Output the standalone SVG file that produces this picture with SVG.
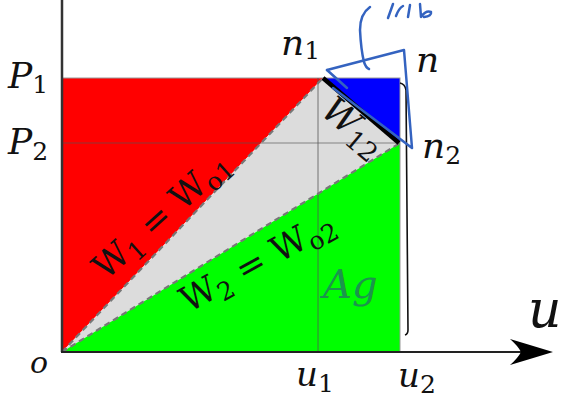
<svg xmlns="http://www.w3.org/2000/svg" width="561" height="399" viewBox="0 0 561 399">
<style>
.lbl{font-family:"DejaVu Serif","Liberation Serif",serif;font-style:italic;fill:#111}
.sub{font-style:normal}
.w{font-family:"DejaVu Serif","Liberation Serif",serif;fill:#111}
.dash{stroke:#777;stroke-width:2.2;stroke-dasharray:6 4;fill:none}
.grid{stroke:#555;stroke-opacity:0.65;stroke-width:1.2;fill:none}
.ink{stroke:#3463c0;stroke-width:2.5;fill:none;stroke-linecap:round;stroke-linejoin:round}
</style>
<rect width="561" height="399" fill="#fff"/>
<g id="regions">
  <polygon id="red" points="62,78 323,78 62,352" fill="#ff0000"/>
  <polygon id="blue" points="323,78 400,78 400,143" fill="#0000ff"/>
  <polygon id="gray" points="62,352 323,78 400,143" fill="#dcdcdc"/>
  <polygon id="green" points="62,352 400,143 400,352" fill="#00ff00"/>
  <rect x="62" y="78" width="338" height="274" fill="none" stroke="#999" stroke-width="1"/>
</g>
<g id="connectors">
  <line class="grid" x1="62" y1="143" x2="400" y2="143"/>
  <line class="grid" x1="318" y1="78" x2="318" y2="352"/>
  <line class="dash" x1="62" y1="352" x2="323" y2="78"/>
  <line class="dash" x1="62" y1="352" x2="400" y2="143"/>
  <line x1="323" y1="78" x2="399" y2="143" stroke="#000" stroke-width="4.5"/>
  <line x1="62" y1="0" x2="62" y2="352" stroke="#333" stroke-width="2.5"/>
  <line x1="61" y1="352" x2="522" y2="352" stroke="#222" stroke-width="2.2"/>
  <path d="M553,352 Q530,345 510,339 Q518,346 521,352 Q518,358 510,365 Q530,359 553,352 Z" fill="#000"/>
  <path d="M400,83 Q405,84 406,90 L408,330 Q408,334 405,335" fill="none" stroke="#111" stroke-width="1.6"/>
</g>
<g id="labels">
  <text class="lbl" x="8" y="88" font-size="36">P<tspan class="sub" font-size="25" dy="5">1</tspan></text>
  <text class="lbl" x="8" y="154" font-size="36">P<tspan class="sub" font-size="25" dy="6">2</tspan></text>
  <text class="lbl" x="281" y="55" font-size="36">n<tspan class="sub" font-size="25" dy="4">1</tspan></text>
  <text class="lbl" x="416" y="72" font-size="36">n</text>
  <text class="lbl" x="422" y="158" font-size="36">n<tspan class="sub" font-size="25" dy="6">2</tspan></text>
  <text class="lbl" x="30" y="373" font-size="30">o</text>
  <text class="lbl" x="296" y="386" font-size="34">u<tspan class="sub" font-size="25" dy="6">1</tspan></text>
  <text class="lbl" x="398" y="387" font-size="34">u<tspan class="sub" font-size="25" dy="6">2</tspan></text>
  <text class="lbl" x="528" y="327" font-size="52">u</text>
</g>
<g id="wlabels">
  <text class="w" font-size="35" text-anchor="middle" transform="translate(169,224) rotate(-42)">W<tspan font-size="25" dy="7">1</tspan><tspan dy="-7"> = W</tspan><tspan font-size="25" dy="7">o1</tspan></text>
  <text class="w" font-size="35" text-anchor="middle" transform="translate(263,272) rotate(-29)">W<tspan font-size="25" dy="7">2</tspan><tspan dy="-7"> = W</tspan><tspan font-size="25" dy="7">o2</tspan></text>
  <text class="w" font-size="36" font-style="italic" text-anchor="middle" transform="translate(346,136) rotate(40)">W<tspan font-size="26" font-style="normal" dy="7">12</tspan></text>
</g>
<g id="annotations">
  <path class="ink" d="M370,7 Q360,14 360,30 Q361,50 364,62 Q366,68 369,69"/>
  <path class="ink" d="M327,70 L404,50 L412,148 L333,88"/>
  <path class="ink" d="M327,70 L347,88"/>
  <path class="ink" d="M388,18 L393,4 M396,16 Q399,8 403,6 M408,17 L410,5 M420,4 L421,17 Q426,10 431,12 Q432,16 424,17"/>
  <text x="323" y="298" font-family="DejaVu Serif, serif" font-style="italic" font-size="40" fill="#1f8a55" opacity="0.9">Ag</text>
</g>
</svg>
